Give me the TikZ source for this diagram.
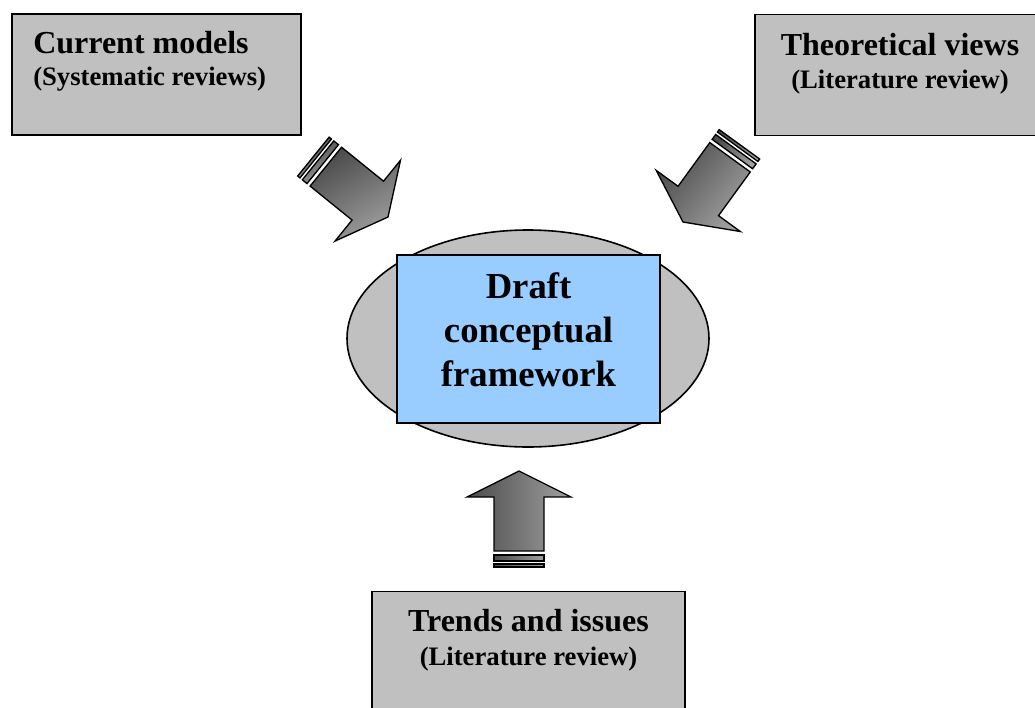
\documentclass[tikz,border=0pt]{standalone}
\usepackage{fontspec}
\setmainfont{Liberation Serif}
\usepackage{tikz}
\usetikzlibrary{shapes.geometric}
\definecolor{boxgray}{RGB}{192,192,192}
\definecolor{draftblue}{RGB}{153,204,255}
\definecolor{arrowlight}{RGB}{160,160,160}
\definecolor{arrowdark}{RGB}{75,75,75}

\begin{document}
\begin{tikzpicture}[x=0.75pt,y=-0.75pt,
	source box/.style={draw,fill=boxgray,line width=1.2pt,minimum width=#1,minimum height=90.75pt,inner sep=0pt},
	head text/.style={inner sep=0pt,font=\fontsize{24}{28}\selectfont\bfseries},
	sub text/.style={inner sep=0pt,font=\fontsize{20}{24}\selectfont\bfseries},
	draft text/.style={inner sep=0pt,align=center,font=\fontsize{27.5}{33}\selectfont\bfseries},
	arrow part/.style={draw,line width=1pt,top color=arrowlight,bottom color=arrowdark},
	stripe arrow/.pic={
		\path[arrow part,shading angle=#1] (0,0) -- (-26,52) -- (-26,25) -- (-80,25) -- (-80,-25) -- (-26,-25) -- (-26,-52) -- cycle;
		\path[arrow part,shading angle=#1] (-84,-25) rectangle (-90,25);
		\path[arrow part,shading angle=#1] (-93,-25) rectangle (-96,25);
	}]
	\useasboundingbox (0,0) rectangle (1035,707);
	\node[source box=216.75pt] (models) at (156.5,74.5) {};
	\node[head text,anchor=base west] (modelshead) at (33,53) {Current models};
	\node[sub text,anchor=base west] (modelssub) at (33,85) {(Systematic reviews)};
	\node[source box=217.5pt] (views) at (900,75) {};
	\node[head text,anchor=base] (viewshead) at (900,55) {Theoretical views};
	\node[sub text,anchor=base] (viewssub) at (900,88) {(Literature review)};
	\node[source box=234.75pt] (trends) at (528.5,652) {};
	\node[head text,anchor=base] (trendshead) at (528.5,631) {Trends and issues};
	\node[sub text,anchor=base] (trendssub) at (528.5,665) {(Literature review)};
	\node[ellipse,draw,fill=boxgray,line width=1.2pt,minimum width=271.5pt,minimum height=162.75pt] (frame) at (528,338.5) {};
	\node[draw,fill=draftblue,line width=0.8pt,minimum width=197.25pt,minimum height=126pt] (draft) at (528.5,339) {};
	\node[draft text,yshift=7pt] (drafttext) at (draft.center) {Draft\\conceptual\\framework};
	\coordinate (tipmodels) at (388,217);
	\coordinate (tipviews) at (683,222);
	\coordinate (tiptrends) at (519,471);
	\pic[rotate=-39] at (tipmodels) {stripe arrow=-150};
	\pic[rotate=-126] at (tipviews) {stripe arrow=-130};
	\pic[rotate=90,arrow part/.append style={top color=arrowdark,bottom color=arrowlight}] at (tiptrends) {stripe arrow=90};
\end{tikzpicture}
\end{document}
